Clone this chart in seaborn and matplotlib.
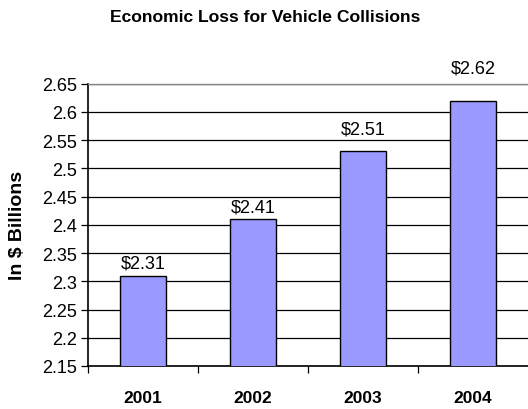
import numpy as np
import pandas as pd
import seaborn as sns
import matplotlib.pyplot as plt

# data
years = ["2001", "2002", "2003", "2004"]
loss = [2.31, 2.41, 2.53, 2.62]
loss_labels = ["$2.31", "$2.41", "$2.51", "$2.62"]
y_ticks = [2.15, 2.2, 2.25, 2.3, 2.35, 2.4, 2.45, 2.5, 2.55, 2.6, 2.65]

# gap (points) between bar top and its label, as placed in the original
label_gap = [3.2, 2.9, 9.7, 17.3]

sns.set_style("white")
plt.rcParams['font.family'] = ['Liberation Sans', 'DejaVu Sans']
plt.rcParams['text.color'] = 'black'
plt.rcParams['xtick.color'] = 'black'
plt.rcParams['ytick.color'] = 'black'
plt.rcParams['axes.labelcolor'] = 'black'

df = pd.DataFrame({"year": years, "loss": loss})

fig = plt.figure(figsize=(5.28, 4.10), dpi=100)
ax = fig.add_axes([88 / 528, 1 - 367 / 410, 1 - 88 / 528, (367 - 84.7) / 410])

sns.barplot(data=df, x="year", y="loss", color="#9999FF", saturation=1,
            width=0.42, edgecolor="black", linewidth=1.0, ax=ax, zorder=3)

ax.set_ylim(2.15, 2.65)
ax.set_xlim(-0.5, 3.5)

# --- y axis: ticks + black gridlines ---
ax.set_yticks(y_ticks)
ax.set_yticklabels([f"{v:g}" for v in y_ticks], fontsize=13)
ax.yaxis.grid(True, color="black", linewidth=0.9)
ax.set_axisbelow(True)
ax.tick_params(axis='y', left=True, length=5, width=0.9, pad=3)

# --- x axis: tick marks on category boundaries, labels at centers ---
ax.set_xticks([-0.5, 0.5, 1.5, 2.5])
ax.set_xticklabels([])
ax.set_xticks(range(len(years)), minor=True)
ax.set_xticklabels(years, minor=True, fontsize=12.5, fontweight='bold')
ax.tick_params(axis='x', which='major', bottom=True, length=5, width=0.9)
ax.tick_params(axis='x', which='minor', bottom=False, length=0, pad=17)
ax.set_xlabel("")
ax.set_ylabel("")

for side in ["left", "bottom"]:
    ax.spines[side].set_color("black")
    ax.spines[side].set_linewidth(1.2)
ax.spines["right"].set_visible(False)
ax.spines["top"].set_color("#888888")
ax.spines["top"].set_linewidth(1.0)

# value labels above bars
for i, (v, lab) in enumerate(zip(loss, loss_labels)):
    ax.annotate(lab, (i, v), xytext=(0, label_gap[i]), textcoords="offset points",
                ha='center', va='bottom', fontsize=13, clip_on=False)

fig.text(265 / 528, 1 - 17 / 410, "Economic Loss for Vehicle Collisions",
         ha='center', va='center', fontsize=12.6, fontweight='bold')
fig.text(17.5 / 528, 1 - 225 / 410, "In $ Billions", rotation=90,
         ha='center', va='center', fontsize=14, fontweight='bold')

fig.savefig("out.png", dpi=100)
